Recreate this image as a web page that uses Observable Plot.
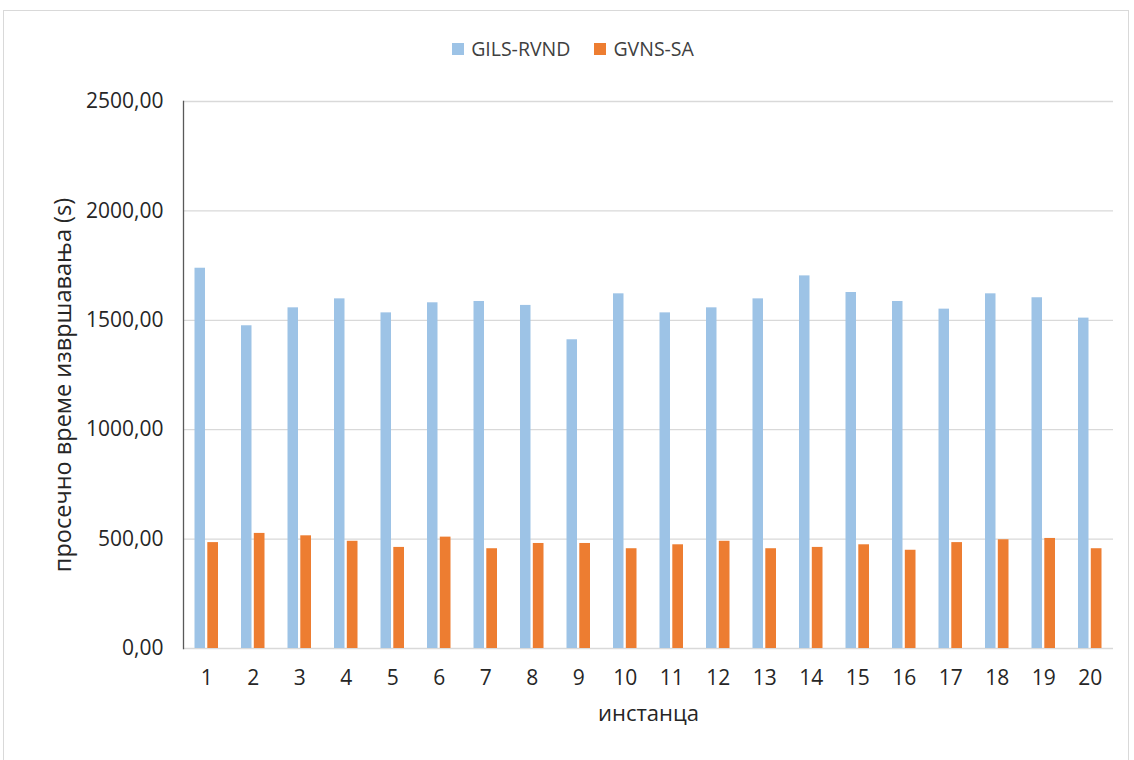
<!DOCTYPE html>
<html>
<head>
<meta charset="utf-8">
<script src="https://cdn.jsdelivr.net/npm/d3@7"></script>
<script src="https://cdn.jsdelivr.net/npm/@observablehq/plot@0.6"></script>
<style>
  html, body { margin: 0; padding: 0; background: #fff; }
  body { width: 1134px; height: 760px; position: relative; overflow: hidden; font-family: "Open Sans", sans-serif; }
  #frame { position: absolute; left: 3px; top: 10px; width: 1126px; height: 760px; border: 1px solid #d9d9d9; box-sizing: border-box; pointer-events: none; }
  #legend { height: 76px; display: flex; justify-content: center; align-items: flex-start; gap: 24px; padding-top: 35px; box-sizing: border-box; font-size: 19.5px; color: #404040; padding-left: 12px; }
  .item { display: flex; align-items: center; gap: 7px; line-height: 27px; }
  .sw { width: 12px; height: 12px; display: inline-block; }
  #chart svg { display: block; }
</style>
</head>
<body>
<div id="frame"></div>
<div id="legend"></div>
<div id="chart"></div>
<script>
const instances = ["1","2","3","4","5","6","7","8","9","10","11","12","13","14","15","16","17","18","19","20"];
const seriesNames = ["GILS-RVND", "GVNS-SA"];
const gilsRvnd = [1738, 1475, 1557, 1598, 1534, 1580, 1586, 1568, 1411, 1621, 1534, 1557, 1598, 1703, 1627, 1586, 1551, 1621, 1603, 1510];
const gvnsSa = [484, 526, 515, 490, 462, 509, 456, 480, 480, 456, 474, 490, 456, 462, 474, 449, 484, 497, 503, 456];
const yTicks = [0, 500, 1000, 1500, 2000, 2500];
const colors = ["#9dc3e6", "#ed7d31"];

const rowsA = instances.map((k, i) => ({instance: k, value: gilsRvnd[i]}));
const rowsB = instances.map((k, i) => ({instance: k, value: gvnsSa[i]}));

const legend = document.getElementById("legend");
seriesNames.forEach((n, i) => {
  const it = document.createElement("div");
  it.className = "item";
  it.innerHTML = `<span class="sw" style="background:${colors[i]}"></span><span>${n}</span>`;
  legend.appendChild(it);
});

const fmt = d => d3.format(".2f")(d).replace(".", ",");

const chart = Plot.plot({
  width: 1134,
  height: 684,
  marginLeft: 183,
  marginRight: 21,
  marginTop: 25,
  marginBottom: 112,
  style: {fontFamily: "Open Sans, sans-serif", fontSize: "21px", color: "#262626"},
  x: {domain: instances, padding: 0, round: false, label: null},
  y: {domain: [0, 2500], label: null},
  marks: [
    Plot.ruleY(yTicks, {stroke: "#d9d9d9", strokeWidth: 1.3}),
    Plot.barY(rowsA, {x: "instance", y: "value", fill: colors[0], insetLeft: 11.5, insetRight: 24.5}),
    Plot.barY(rowsB, {x: "instance", y: "value", fill: colors[1], insetLeft: 24.3, insetRight: 11.5}),
    Plot.frame({anchor: "left", stroke: "#595959", strokeWidth: 1.3}),
    Plot.axisY({ticks: yTicks, tickFormat: fmt, tickSize: 0, tickPadding: 20, label: null}),
    Plot.axisX({tickSize: 0, tickPadding: 22, label: null}),
    Plot.text(["инстанца"], {frameAnchor: "bottom", dy: 72, fontSize: 22}),
    Plot.text(["просечно време извршавања (s)"], {frameAnchor: "left", textAnchor: "middle", dx: -120, dy: 10, rotate: -90, fontSize: 23.5})
  ]
});
document.getElementById("chart").appendChild(chart);
</script>
</body>
</html>
